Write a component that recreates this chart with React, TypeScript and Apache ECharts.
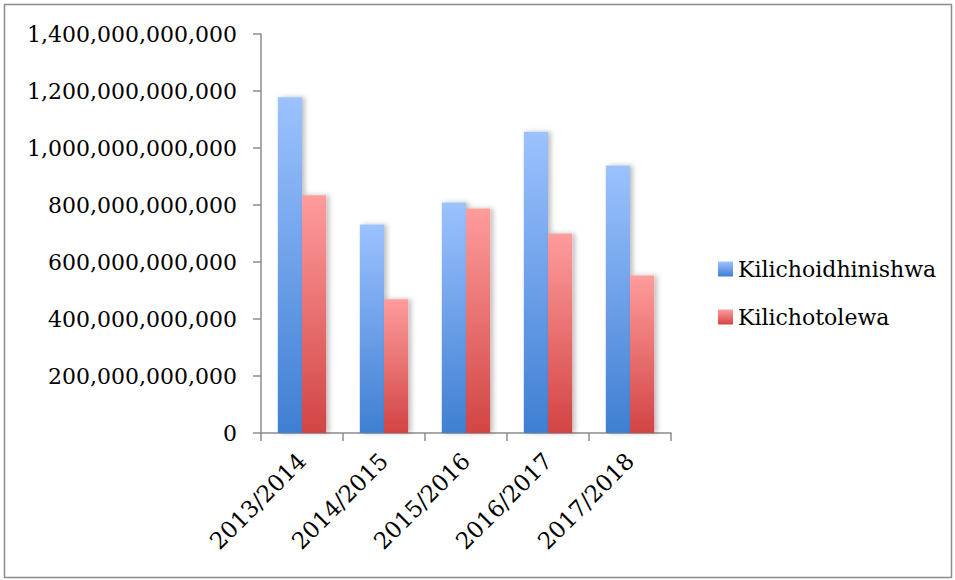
import React, { useEffect, useRef } from "react";
import * as echarts from "echarts";

const categories = ["2013/2014", "2014/2015", "2015/2016", "2016/2017", "2017/2018"];
const approved = [1178e9, 732e9, 809e9, 1057e9, 939e9];
const released = [834e9, 469e9, 788e9, 700e9, 553e9];
const seriesNames = ["Kilichoidhinishwa", "Kilichotolewa"];

const FONT = "DejaVu Serif";

function fmt(v: number): string {
  return Math.round(v).toString().replace(/\B(?=(\d{3})+(?!\d))/g, ",");
}

export default function App() {
  const ref = useRef<HTMLDivElement>(null);
  useEffect(() => {
    if (!ref.current) return;
    const chart = echarts.init(ref.current, undefined, { renderer: "svg" });
    const blue = new echarts.graphic.LinearGradient(0, 0, 0, 1, [
      { offset: 0, color: "#9CC2FF" },
      { offset: 1, color: "#3F7FD2" },
    ]);
    const red = new echarts.graphic.LinearGradient(0, 0, 0, 1, [
      { offset: 0, color: "#FF9C9C" },
      { offset: 1, color: "#D24444" },
    ]);
    const shadow = { shadowBlur: 5, shadowOffsetX: 3, shadowOffsetY: 0, shadowColor: "rgba(0,0,0,0.25)" };
    chart.setOption({
      animation: false,
      backgroundColor: "#ffffff",
      textStyle: { fontFamily: FONT },
      graphic: [
        {
          type: "rect",
          shape: { x: 4.5, y: 4.5, width: 947, height: 573 },
          style: { fill: "none", stroke: "#8c8c8c", lineWidth: 1.5 },
          silent: true,
        },
      ],
      grid: { left: 261, right: 284, top: 34, bottom: 147, containLabel: false },
      legend: {
        orient: "vertical",
        left: 713,
        top: 253,
        itemWidth: 15,
        itemHeight: 15,
        itemGap: 26,
        icon: "rect",
        textStyle: { fontFamily: FONT, fontSize: 22, color: "#000" },
        data: seriesNames,
      },
      xAxis: {
        type: "category",
        data: categories,
        axisLine: { lineStyle: { color: "#8c8c8c", width: 1.5 } },
        axisTick: { show: true, length: 8, alignWithLabel: false, lineStyle: { color: "#8c8c8c", width: 1.5 } },
        axisLabel: { rotate: 45, fontFamily: FONT, fontSize: 23, color: "#000", margin: 24, interval: 0 },
      },
      yAxis: {
        type: "value",
        min: 0,
        max: 1400e9,
        interval: 200e9,
        axisLine: { show: true, lineStyle: { color: "#8c8c8c", width: 1.5 } },
        axisTick: { show: true, length: 8, inside: false, lineStyle: { color: "#8c8c8c", width: 1.5 } },
        splitLine: {
          show: true,
          lineStyle: { color: "#9a9a9a", width: 1.5, shadowBlur: 2, shadowOffsetY: 1, shadowColor: "rgba(0,0,0,0.2)" },
        },
        axisLabel: {
          fontFamily: FONT,
          fontSize: 22,
          color: "#000",
          margin: 24,
          formatter: (v: number) => fmt(v),
        },
      },
      series: [
        {
          name: seriesNames[0],
          type: "bar",
          data: approved,
          barGap: "0%",
          barCategoryGap: "41%",
          itemStyle: { color: blue, ...shadow },
        },
        {
          name: seriesNames[1],
          type: "bar",
          data: released,
          barGap: "0%",
          barCategoryGap: "41%",
          itemStyle: { color: red, ...shadow },
        },
      ],
    });
    return () => chart.dispose();
  }, []);
  return (
    <div
      ref={ref}
      style={{ position: "fixed", left: 0, top: 0, width: 955, height: 580 }}
    />
  );
}
